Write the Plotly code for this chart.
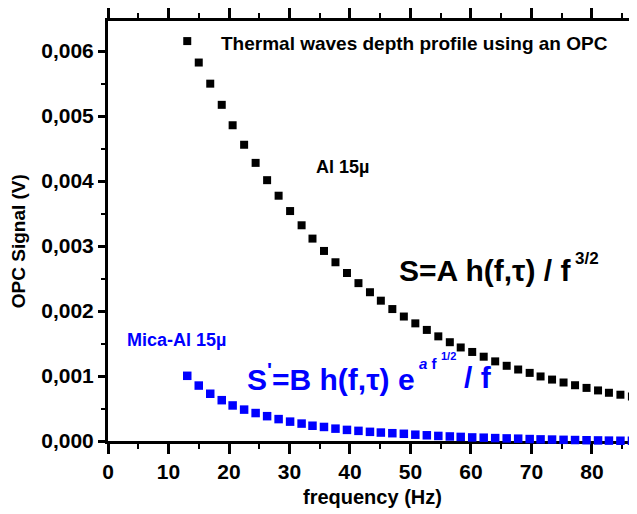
import plotly.graph_objects as go

# frequency values (Hz)
freq = [13.1, 15.0, 16.9, 18.8, 20.6, 22.5, 24.4, 26.3, 28.2, 30.1,
        32.0, 33.8, 35.7, 37.6, 39.5, 41.4, 43.3, 45.1, 47.0, 48.9,
        50.8, 52.7, 54.6, 56.5, 58.3, 60.2, 62.1, 64.0, 65.9, 67.8,
        69.7, 71.5, 73.4, 75.3, 77.2, 79.1, 81.0, 82.8, 84.7, 86.6]

# Al 15µ signal (V)
al_signal = [0.006153, 0.005823, 0.005498, 0.005172, 0.004858, 0.004558, 0.004279, 0.004013,
             0.003774, 0.003538, 0.003319, 0.003114, 0.002924, 0.002750, 0.002585, 0.002429,
             0.002289, 0.002159, 0.002030, 0.001915, 0.001810, 0.001709, 0.001610, 0.001520,
             0.001439, 0.001370, 0.001297, 0.001225, 0.001157, 0.001100, 0.001048, 0.000993,
             0.000945, 0.000900, 0.000858, 0.000817, 0.000778, 0.000742, 0.000712, 0.000685]

# Mica-Al 15µ signal (V)
mica_signal = [0.001003, 0.000853, 0.000727, 0.000628, 0.000547, 0.000483, 0.000430, 0.000382,
               0.000337, 0.000298, 0.000268, 0.000235, 0.000216, 0.000190, 0.000171, 0.000156,
               0.000141, 0.000130, 0.000120, 0.000111, 0.000097, 0.000088, 0.000078, 0.000070,
               0.000063, 0.000055, 0.000051, 0.000045, 0.000040, 0.000036, 0.000030, 0.000025,
               0.000022, 0.000018, 0.000015, 0.000012, 0.000009, 0.000006, 0.000004, 0.000002]

FONT = "Liberation Sans, Arial, sans-serif"
OFF = 8  # page body margin offset
W, H = 637 - OFF, 514 - OFF
L, R, T, B = 100, 0, 2, 73

fig = go.Figure()
fig.add_trace(go.Scatter(x=freq, y=al_signal, mode="markers",
                         marker=dict(symbol="square", size=8, color="black"),
                         cliponaxis=False, showlegend=False))
fig.add_trace(go.Scatter(x=freq, y=mica_signal, mode="markers",
                         marker=dict(symbol="square", size=8.5, color="#0000FF"),
                         cliponaxis=False, showlegend=False))

pw = W - L - R
ph = H - T - B


def px(xp):
    return (xp - OFF - L) / pw


def py(yp):
    return (H - B - (yp - OFF)) / ph


def ann(text, x, y, size, color="black", xanchor="left", angle=0):
    fig.add_annotation(text=text, x=px(x), y=py(y), xref="paper", yref="paper",
                       xanchor=xanchor, yanchor="middle", showarrow=False,
                       textangle=angle,
                       font=dict(family=FONT, size=size, color=color, weight="bold"))


ann("Thermal waves depth profile using an OPC", 219, 33, 19)
ann("Al 15µ", 314, 160, 18)
ann("S=A h(f,τ) / f", 396.7, 266, 30)
ann("3/2", 573, 254, 17)
ann("Mica-Al 15µ", 125, 337.3, 18, color="#0000FF")
ann("S<sup>'</sup>=B h(f,τ) e", 245, 375, 30, color="#0000FF")
ann("<i>a</i> f", 416.7, 361.5, 15, color="#0000FF")
ann("1/2", 439, 353.5, 11, color="#0000FF")
ann("/ f", 461.7, 376, 30, color="#0000FF")
ann("OPC Signal (V)", 18.5, 236.5, 19, xanchor="center", angle=-90)
ann("frequency (Hz)", 372.5, 498, 20, xanchor="center")

axis_common = dict(showgrid=False, zeroline=False, showline=True, linewidth=3,
                   linecolor="black", ticks="outside", tickcolor="black",
                   tickwidth=3, layer="below traces",
                   tickfont=dict(family=FONT, size=21, color="black", weight="bold"))

fig.update_xaxes(range=[0, 87.44], dtick=10, tick0=0, ticklen=10, mirror="ticks",
                 minor=dict(dtick=5, ticklen=5, tickwidth=2, ticks="outside", tickcolor="black"),
                 **axis_common)
fig.update_yaxes(range=[0, 0.006462], dtick=0.001, tick0=0, ticklen=7, tickformat=".3f",
                 minor=dict(dtick=0.0005, ticklen=4, tickwidth=2, ticks="outside", tickcolor="black"),
                 **axis_common)

fig.update_layout(width=W, height=H, margin=dict(l=L, r=R, t=T, b=B),
                  paper_bgcolor="white", plot_bgcolor="white",
                  separators=",.", showlegend=False,
                  font=dict(family=FONT, color="black"))

fig.write_html("out.html")
